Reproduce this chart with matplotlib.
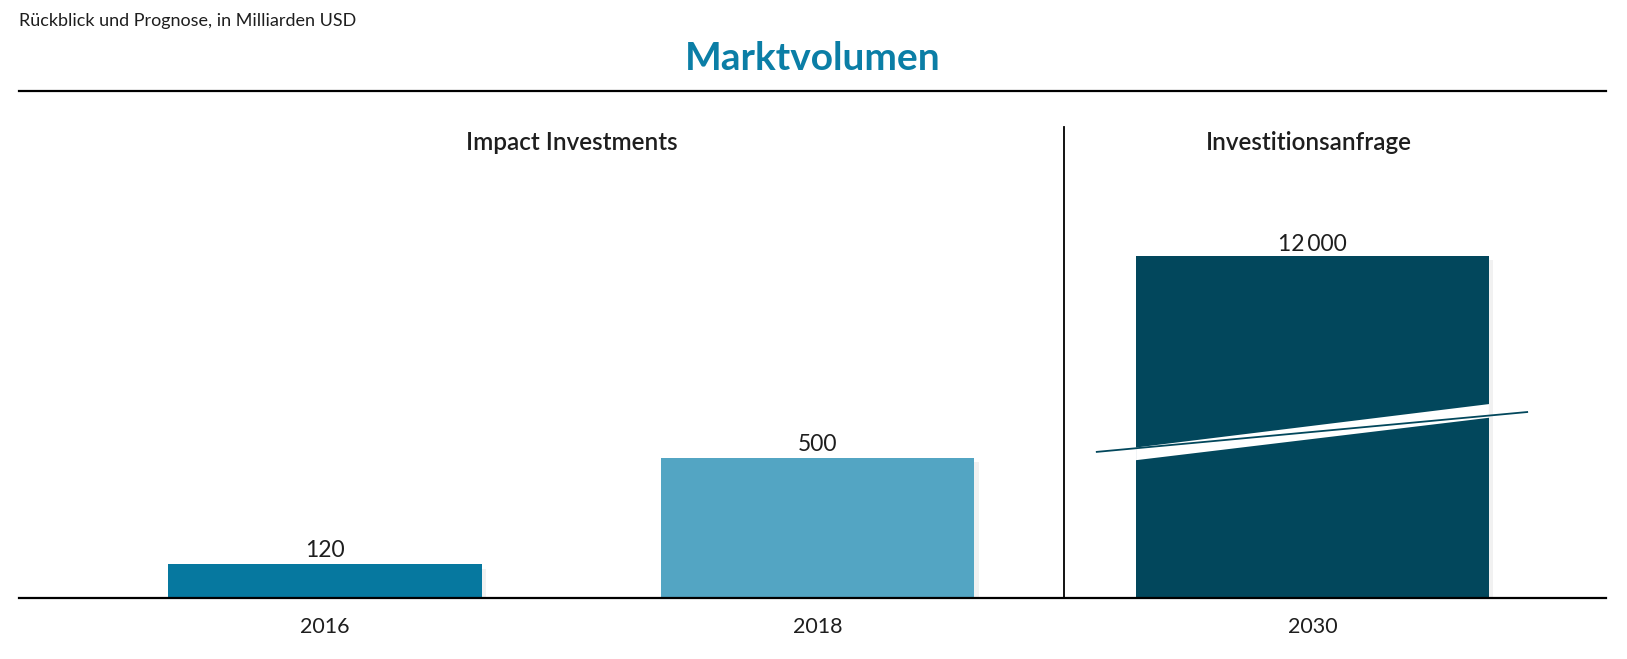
import numpy as np
import matplotlib.pyplot as plt
import matplotlib.patheffects as pe
from matplotlib.lines import Line2D
from matplotlib.patches import Polygon

plt.rcParams['font.family'] = ['Lato', 'DejaVu Sans']

# data
years_impact = ['2016', '2018']
values_impact = [120, 500]
years_demand = ['2030']
values_demand = [12000]
header_impact = 'Impact Investments'
header_demand = 'Investitionsanfrage'

col_impact = ['#06789f', '#53a5c3']
col_demand = '#02475c'
col_title = '#0b7ea6'
col_text = '#1e1e1e'

W, H = 1627, 659
fig = plt.figure(figsize=(W / 100, H / 100), dpi=100)

def fx(px):
    return px / W

def fy(py):
    return 1 - py / H

base_y = 598
top_y = 127
div_x = 1064
left_x, right_x = 19, 1606

ax1 = fig.add_axes([fx(left_x), fy(base_y), fx(div_x - left_x), (base_y - top_y) / H])
ax2 = fig.add_axes([fx(div_x), fy(base_y), fx(right_x - div_x), (base_y - top_y) / H])

shadow = [pe.SimplePatchShadow(offset=(3, -3), shadow_rgbFace='#c8c8c8', alpha=0.25), pe.Normal()]

# left panel
bw1 = 0.637
x1 = np.arange(len(values_impact))
bars1 = ax1.bar(x1, values_impact, width=bw1, color=col_impact, zorder=2)
for b in bars1:
    b.set_path_effects(shadow)
ax1.set_xlim(-0.621, 1.5005)
ax1.set_ylim(0, 1682)
for xi, v in zip(x1, values_impact):
    ax1.annotate(f'{v}', (xi, v), xytext=(0, 2.5), textcoords='offset points',
                 ha='center', va='bottom', fontsize=16.5, color=col_text)

# right panel
bw2 = 0.65
x2 = np.arange(len(values_demand))
bars2 = ax2.bar(x2, values_demand, width=bw2, color=col_demand, zorder=2)
for b in bars2:
    b.set_path_effects(shadow)
ax2.set_xlim(-0.4577, 0.5405)
ax2.set_ylim(0, 16526)
for xi, v in zip(x2, values_demand):
    ax2.annotate(f'{v:,}'.replace(',', '\u2009'), (xi, v), xytext=(0, 1), textcoords='offset points',
                 ha='center', va='bottom', fontsize=16.5, color=col_text)

# axis break on the 2030 bar
v = values_demand[0]
h = bw2 / 2
band = Polygon([(-h, 0.44 * v), (h, 0.567 * v), (h, 0.527 * v), (-h, 0.403 * v)],
               closed=True, facecolor='white', edgecolor='none', zorder=3)
ax2.add_patch(band)
ax2.plot([-0.399, 0.397], [0.427 * v, 0.544 * v], color=col_demand, lw=1.3, zorder=4,
         solid_capstyle='butt')

for ax, labels, xs in [(ax1, years_impact, x1), (ax2, years_demand, x2)]:
    ax.set_xticks(xs)
    ax.set_xticklabels(labels, fontsize=15.5, color=col_text)
    ax.tick_params(axis='x', length=0, pad=14)
    ax.set_yticks([])
    for s in ax.spines.values():
        s.set_visible(False)
    ax.patch.set_alpha(0)

# headers
fig.text(fx(572), fy(143), header_impact, ha='center', va='center', fontsize=17.5,
         fontweight='semibold', color=col_text)
fig.text(fx(1309), fy(143), header_demand, ha='center', va='center', fontsize=17.5,
         fontweight='semibold', color=col_text)

# rules
fig.add_artist(Line2D([fx(left_x), fx(right_x)], [fy(91), fy(91)], color='black', lw=1.6))
fig.add_artist(Line2D([fx(left_x), fx(right_x)], [fy(base_y), fy(base_y)], color='black', lw=1.6, zorder=5))
fig.add_artist(Line2D([fx(div_x), fx(div_x)], [fy(top_y), fy(base_y)], color='black', lw=1.3))

# titles
fig.text(fx(19), fy(21), 'Rückblick und Prognose, in Milliarden USD', ha='left', va='center',
         fontsize=13, color=col_text)
fig.text(fx(813), fy(58), 'Marktvolumen', ha='center', va='center', fontsize=28,
         fontweight='bold', color=col_title)

fig.savefig('out.png', dpi=100)
